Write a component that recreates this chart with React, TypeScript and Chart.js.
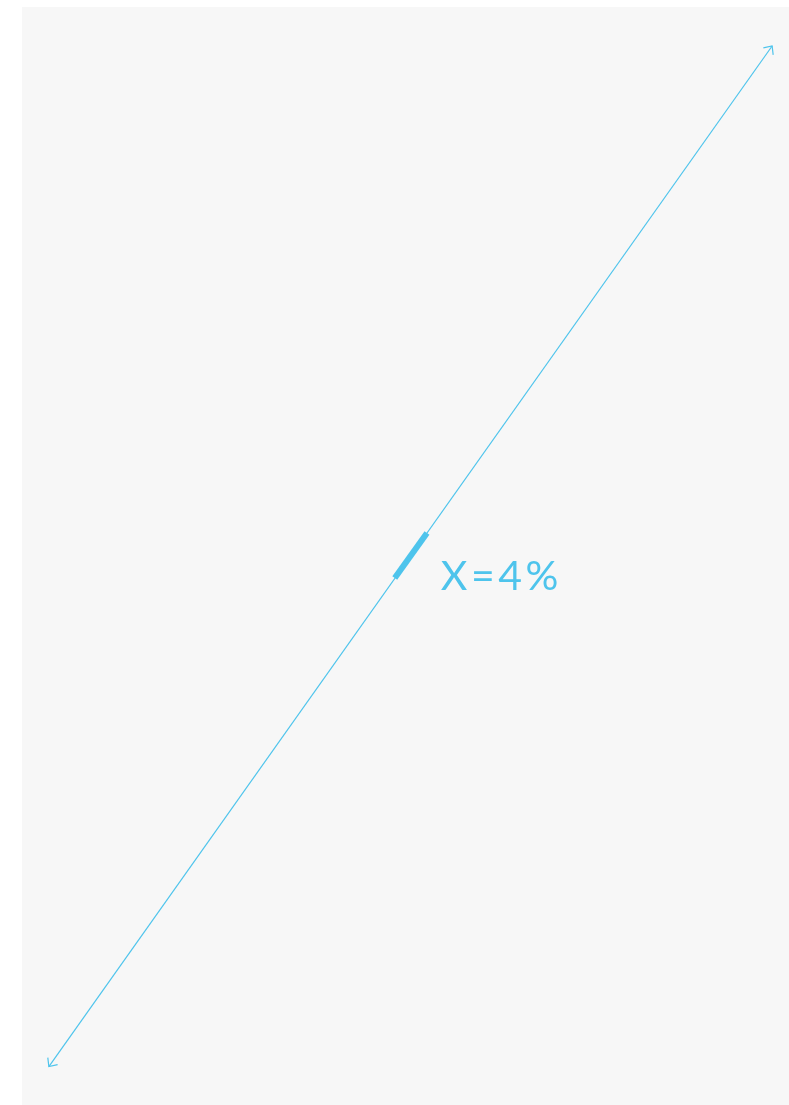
import React, { useEffect, useRef } from "react";
import { Chart, registerables } from "chart.js";

Chart.register(...registerables);

const lineX = [3.5, 97.8];
const lineY = [3.5, 96.45];
const segX = [48.6, 52.8];
const segY = [48.0, 52.1];
const labelText = "X=4%";

const COLOR = "#4ec4ec";

const decorPlugin = {
  id: "decor",
  afterDatasetsDraw(chart: any) {
    const ctx = chart.ctx;
    const xs = chart.scales.x;
    const ys = chart.scales.y;
    const p0 = { x: xs.getPixelForValue(lineX[0]), y: ys.getPixelForValue(lineY[0]) };
    const p1 = { x: xs.getPixelForValue(lineX[1]), y: ys.getPixelForValue(lineY[1]) };
    const drawHead = (tip: any, from: any) => {
      const ang = Math.atan2(from.y - tip.y, from.x - tip.x);
      const len = 9;
      const spread = (42 * Math.PI) / 180;
      ctx.save();
      ctx.strokeStyle = COLOR;
      ctx.lineWidth = 1.2;
      ctx.beginPath();
      ctx.moveTo(tip.x + Math.cos(ang + spread) * len, tip.y + Math.sin(ang + spread) * len);
      ctx.lineTo(tip.x, tip.y);
      ctx.lineTo(tip.x + Math.cos(ang - spread) * len, tip.y + Math.sin(ang - spread) * len);
      ctx.stroke();
      ctx.restore();
    };
    drawHead(p1, p0);
    drawHead(p0, p1);
    const sx = (xs.getPixelForValue(segX[0]) + xs.getPixelForValue(segX[1])) / 2;
    const sy = (ys.getPixelForValue(segY[0]) + ys.getPixelForValue(segY[1])) / 2;
    ctx.save();
    ctx.fillStyle = COLOR;
    ctx.font = "400 41px Lato";
    (ctx as any).letterSpacing = "3.5px";
    ctx.textAlign = "left";
    ctx.textBaseline = "alphabetic";
    ctx.fillText(labelText, sx + 30, sy + 35);
    ctx.restore();
  },
};

export default function App() {
  const ref = useRef<HTMLCanvasElement | null>(null);
  useEffect(() => {
    if (!ref.current) return;
    const chart = new Chart(ref.current, {
      type: "scatter",
      data: {
        datasets: [
          {
            data: lineX.map((x, i) => ({ x, y: lineY[i] })),
            showLine: true,
            borderColor: COLOR,
            borderWidth: 1.2,
            pointRadius: 0,
            pointHoverRadius: 0,
          },
          {
            data: segX.map((x, i) => ({ x, y: segY[i] })),
            showLine: true,
            borderColor: COLOR,
            borderWidth: 6,
            borderCapStyle: "butt",
            pointRadius: 0,
            pointHoverRadius: 0,
          },
        ],
      },
      options: {
        animation: false,
        responsive: true,
        maintainAspectRatio: false,
        layout: { padding: 0 },
        plugins: { legend: { display: false }, tooltip: { enabled: false } },
        scales: {
          x: { type: "linear", min: 0, max: 100, display: false },
          y: { type: "linear", min: 0, max: 100, display: false },
        },
      },
      plugins: [decorPlugin],
    } as any);
    return () => chart.destroy();
  }, []);
  return (
    <div
      style={{
        position: "absolute",
        left: 22,
        top: 7,
        width: 767,
        height: 1098,
        background: "#f7f7f7",
      }}
    >
      <canvas ref={ref} />
    </div>
  );
}
